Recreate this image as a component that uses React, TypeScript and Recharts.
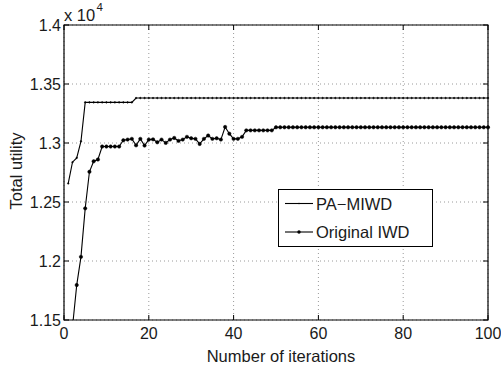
import React from 'react';
import { LineChart, Line, XAxis, YAxis, CartesianGrid, ReferenceArea } from 'recharts';

// Total utility values (raw, axis shows x 10^4)
const PA_MIWD: number[] = [
  12657, 12837, 12874, 13014, 13344, 13344, 13344, 13344, 13344, 13344,
  13344, 13344, 13344, 13344, 13344, 13344, 13381, 13381, 13381, 13381,
  13381, 13381, 13381, 13381, 13381, 13381, 13381, 13381, 13381, 13381,
  13381, 13381, 13381, 13381, 13381, 13381, 13381, 13381, 13381, 13381,
  13381, 13381, 13381, 13381, 13381, 13381, 13381, 13381, 13381, 13381,
  13381, 13381, 13381, 13381, 13381, 13381, 13381, 13381, 13381, 13381,
  13381, 13381, 13381, 13381, 13381, 13381, 13381, 13381, 13381, 13381,
  13381, 13381, 13381, 13381, 13381, 13381, 13381, 13381, 13381, 13381,
  13381, 13381, 13381, 13381, 13381, 13381, 13381, 13381, 13381, 13381,
  13381, 13381, 13381, 13381, 13381, 13381, 13381, 13381, 13381, 13381,
];

const ORIGINAL_IWD: number[] = [
  11050, 11440, 11796, 12035, 12446, 12756, 12845, 12860, 12970, 12970,
  12970, 12970, 12970, 13023, 13029, 13035, 12980, 13035, 12978, 13029,
  13031, 13006, 13029, 13001, 13029, 13043, 13018, 13029, 13052, 13040,
  13035, 12992, 13035, 13063, 13035, 13040, 13029, 13136, 13079, 13035,
  13035, 13052, 13107, 13107, 13107, 13107, 13107, 13107, 13107, 13133,
  13133, 13133, 13133, 13133, 13133, 13133, 13133, 13133, 13133, 13133,
  13133, 13133, 13133, 13133, 13133, 13133, 13133, 13133, 13133, 13133,
  13133, 13133, 13133, 13133, 13133, 13133, 13133, 13133, 13133, 13133,
  13133, 13133, 13133, 13133, 13133, 13133, 13133, 13133, 13133, 13133,
  13133, 13133, 13133, 13133, 13133, 13133, 13133, 13133, 13133, 13133,
];

const X_TICKS = [0, 20, 40, 60, 80, 100];
const Y_TICKS = [11500, 12000, 12500, 13000, 13500, 14000];
const Y_TICK_LABELS = ['1.15', '1.2', '1.25', '1.3', '1.35', '1.4'];
const SERIES_NAMES = ['PA\u2212MIWD', 'Original IWD'];
const X_TITLE = 'Number of iterations';
const Y_TITLE = 'Total utility';

const data = PA_MIWD.map((v, i) => ({ iter: i + 1, pa: v, iwd: ORIGINAL_IWD[i] }));

const FONT = '"Liberation Sans", Arial, Helvetica, sans-serif';
const W = 501;
const H = 371;
const PLOT = { left: 64, right: 488, top: 25, bottom: 320 };

const YTick = (props: any) => {
  const { x, y, payload } = props;
  const idx = Y_TICKS.indexOf(payload.value);
  return (
    <g>
      <text x={x} y={y} dy={5.5} textAnchor="end" fontSize={16} fill="#1a1a1a" fontFamily={FONT}>
        {Y_TICK_LABELS[idx]}
      </text>
      <line x1={PLOT.left} x2={PLOT.left + 5} y1={y} y2={y} stroke="#000" strokeWidth={1} />
      <line x1={PLOT.right - 5} x2={PLOT.right} y1={y} y2={y} stroke="#000" strokeWidth={1} />
    </g>
  );
};

const XTick = (props: any) => {
  const { x, y, payload } = props;
  return (
    <g>
      <text x={x} y={y} dy={16} textAnchor="middle" fontSize={16} fill="#1a1a1a" fontFamily={FONT}>
        {payload.value}
      </text>
      <line x1={x} x2={x} y1={PLOT.bottom} y2={PLOT.bottom - 5} stroke="#000" strokeWidth={1} />
      <line x1={x} x2={x} y1={PLOT.top} y2={PLOT.top + 5} stroke="#000" strokeWidth={1} />
    </g>
  );
};

export default function App() {
  return (
    <div style={{ position: 'absolute', left: 0, top: 0, width: W, height: H, background: '#fff' }}>
      <LineChart
        width={W}
        height={H}
        data={data}
        margin={{ top: PLOT.top, right: W - PLOT.right, bottom: 0, left: 0 }}
      >
        <CartesianGrid stroke="#9a9a9a" strokeDasharray="1 3" strokeWidth={1} />
        <XAxis
          dataKey="iter"
          type="number"
          domain={[0, 100]}
          ticks={X_TICKS}
          height={H - PLOT.bottom}
          axisLine={false}
          tickLine={false}
          tickSize={0}
          tickMargin={3}
          tick={<XTick />}
          interval={0}
        />
        <YAxis
          type="number"
          domain={[11500, 14000]}
          ticks={Y_TICKS}
          allowDataOverflow
          width={PLOT.left}
          axisLine={false}
          tickLine={false}
          tickSize={0}
          tickMargin={3}
          tick={<YTick />}
          interval={0}
        />
        <ReferenceArea x1={0} x2={100} y1={11500} y2={14000} fill="none" stroke="#000" strokeWidth={1.2} />
        <Line
          type="linear"
          dataKey="pa"
          name={SERIES_NAMES[0]}
          stroke="#000"
          strokeWidth={1.1}
          dot={{ r: 0.8, fill: '#000', stroke: '#000', strokeWidth: 0.5 }}
          isAnimationActive={false}
        />
        <Line
          type="linear"
          dataKey="iwd"
          name={SERIES_NAMES[1]}
          stroke="#000"
          strokeWidth={1.1}
          dot={{ r: 1.7, fill: '#000', stroke: '#000', strokeWidth: 0.5 }}
          isAnimationActive={false}
        />
      </LineChart>
      <svg
        width={W}
        height={H}
        style={{ position: 'absolute', left: 0, top: 0, pointerEvents: 'none' }}
        fontFamily={FONT}
      >
        <text x={64} y={21} fontSize={16.5} fill="#1a1a1a">x 10</text>
        <text x={96.5} y={11} fontSize={11.5} fill="#1a1a1a">4</text>
        <text
          transform="translate(22,171) rotate(-90)"
          textAnchor="middle"
          fontSize={16.5}
          fill="#1a1a1a"
        >
          {Y_TITLE}
        </text>
        <text x={281} y={362} textAnchor="middle" fontSize={16.5} fill="#1a1a1a">
          {X_TITLE}
        </text>
        <rect x={278.5} y={189.5} width={154} height={57} fill="#fff" stroke="#000" strokeWidth={1} />
        <line x1={285} x2={313} y1={203.5} y2={203.5} stroke="#000" strokeWidth={1.1} />
        <circle cx={299} cy={203.5} r={0.8} fill="#000" />
        <text x={316} y={209.5} fontSize={16.5} fill="#1a1a1a">{SERIES_NAMES[0]}</text>
        <line x1={285} x2={313} y1={232} y2={232} stroke="#000" strokeWidth={1.1} />
        <circle cx={299} cy={232} r={1.7} fill="#000" />
        <text x={316} y={238} fontSize={16.5} fill="#1a1a1a">{SERIES_NAMES[1]}</text>
      </svg>
    </div>
  );
}
